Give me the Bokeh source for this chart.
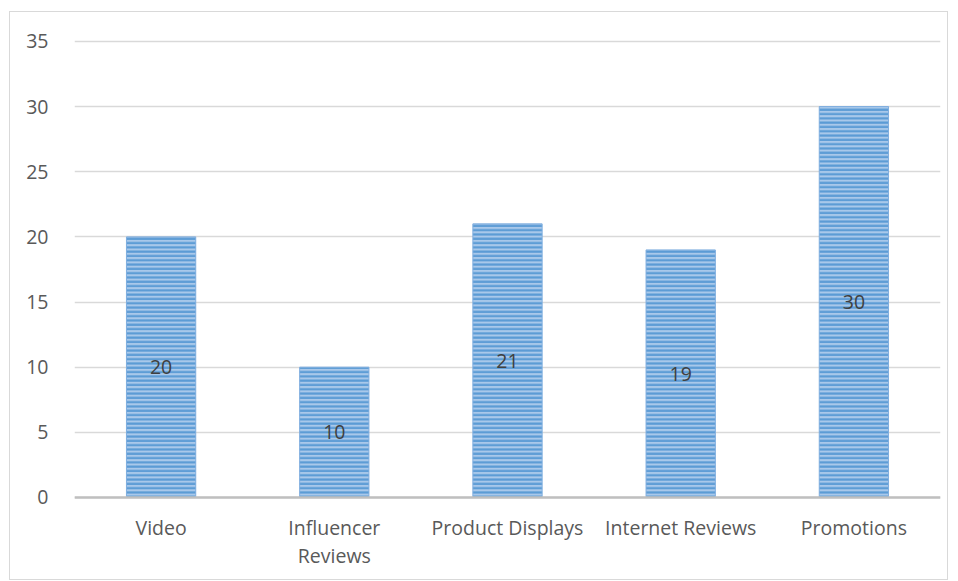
from bokeh.plotting import figure
from bokeh.models import ColumnDataSource, Range1d, FactorRange, LabelSet, FixedTicker, Span
from bokeh.embed import file_html
from bokeh.resources import INLINE
from bokeh.core.properties import value

categories = ["Video", "Influencer Reviews", "Product Displays", "Internet Reviews", "Promotions"]
cat_labels = ["Video", "Influencer\nReviews", "Product Displays", "Internet Reviews", "Promotions"]
values = [20, 10, 21, 19, 30]
y_ticks = [0, 5, 10, 15, 20, 25, 30, 35]

src = ColumnDataSource(dict(cat=categories, val=values, mid=[v / 2 for v in values],
                            lab=[str(v) for v in values], zero=[0] * len(values), name=cat_labels))

FONT = "Open Sans"
FS = "19.5px"

p = figure(width=939, height=569, x_range=FactorRange(*categories),
           y_range=Range1d(-5.99, 35.84),
           output_backend="svg", toolbar_location=None,
           min_border_left=64, min_border_right=9, min_border_top=18, min_border_bottom=6,
           styles={"margin-left": "9px", "margin-top": "11px", "border": "1px solid #D9D9D9"})
p.outline_line_color = None
p.background_fill_color = "white"
p.border_fill_color = "white"

p.vbar(x="cat", top="val", width=0.4, source=src, fill_color="#A9C8EA", line_color="#7FAEDF",
       line_width=1, hatch_pattern="horizontal_line", hatch_color="#5B9BD5", hatch_scale=4.3,
       hatch_weight=2.2)

p.add_layout(Span(location=0, dimension="width", line_color="#BFBFBF", line_width=2.5))

labels = LabelSet(x="cat", y="mid", text="lab", source=src, text_align="center", text_baseline="middle",
                  text_font=value(FONT), text_font_size=FS, text_color="#404040")
p.add_layout(labels)

p.text(x="cat", y="zero", text="name", source=src, text_align="center", text_baseline="top",
       y_offset=17, text_font=value(FONT), text_font_size=FS, text_color="#595959",
       text_line_height=1.03)

p.xaxis.visible = False
p.yaxis.ticker = FixedTicker(ticks=y_ticks)
p.yaxis.axis_line_color = None
p.yaxis.major_tick_line_color = None
p.yaxis.minor_tick_line_color = None
p.yaxis.major_label_standoff = 20
p.yaxis.major_label_text_font = FONT
p.yaxis.major_label_text_font_size = FS
p.yaxis.major_label_text_color = "#595959"

p.xgrid.grid_line_color = None
p.ygrid.grid_line_color = "#D9D9D9"
p.ygrid.grid_line_width = 1.5

open("out.html", "w").write(file_html(p, INLINE))
